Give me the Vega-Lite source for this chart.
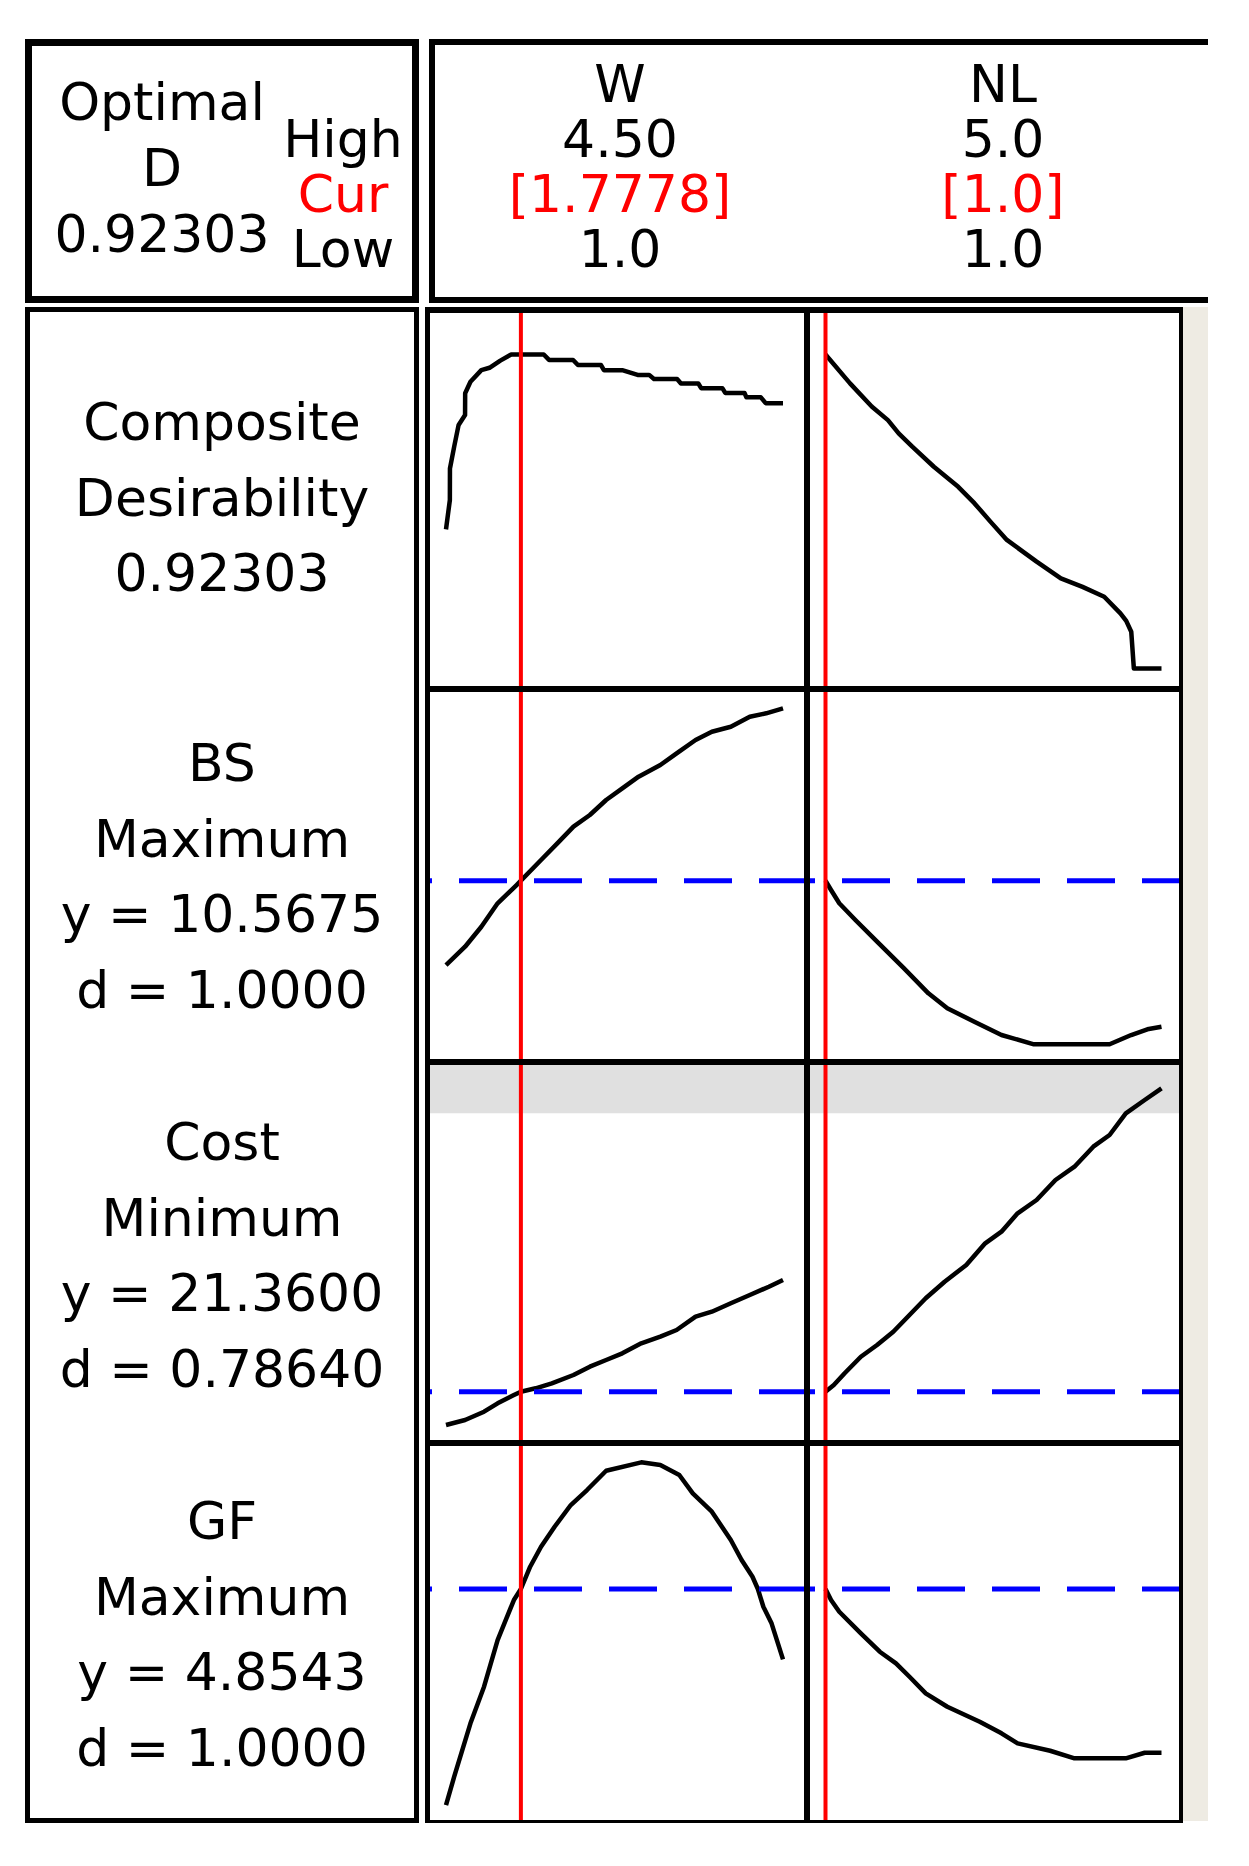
{
"$schema": "https://vega.github.io/schema/vega-lite/v6.json",
"background": "white",
"padding": {"left": 25, "top": 39, "right": 0, "bottom": 0},
"config": {"view": {"stroke": null}, "font": "DejaVu Sans", "text": {"font": "DejaVu Sans", "fontSize": 52, "baseline": "middle", "align": "center"}},
"datasets": {
"optimal": [
{"col": "opt", "line": "a", "t": "Optimal"},
{"col": "opt", "line": "b", "t": "D"},
{"col": "opt", "line": "c", "t": "0.92303"}
],
"hcl": [
{"col": "hcl", "line": "high", "t": "High", "role": "text"},
{"col": "hcl", "line": "cur", "t": "Cur", "role": "current"},
{"col": "hcl", "line": "low", "t": "Low", "role": "text"}
],
"factors": [
{"factor": "W", "line": "name", "t": "W", "role": "text"},
{"factor": "W", "line": "high", "t": "4.50", "role": "text"},
{"factor": "W", "line": "cur", "t": "[1.7778]", "role": "current"},
{"factor": "W", "line": "low", "t": "1.0", "role": "text"},
{"factor": "NL", "line": "name", "t": "NL", "role": "text"},
{"factor": "NL", "line": "high", "t": "5.0", "role": "text"},
{"factor": "NL", "line": "cur", "t": "[1.0]", "role": "current"},
{"factor": "NL", "line": "low", "t": "1.0", "role": "text"}
],
"labels": [
{"resp": "CD", "line": "c1", "t": "Composite", "role": "text"},
{"resp": "CD", "line": "c2", "t": "Desirability", "role": "text"},
{"resp": "CD", "line": "c3", "t": "0.92303", "role": "text"},
{"resp": "BS", "line": "l1", "t": "BS", "role": "text"},
{"resp": "BS", "line": "l2", "t": "Maximum", "role": "text"},
{"resp": "BS", "line": "l3", "t": "y = 10.5675", "role": "predicted"},
{"resp": "BS", "line": "l4", "t": "d = 1.0000", "role": "text"},
{"resp": "Cost", "line": "l1", "t": "Cost", "role": "text"},
{"resp": "Cost", "line": "l2", "t": "Minimum", "role": "text"},
{"resp": "Cost", "line": "l3", "t": "y = 21.3600", "role": "predicted"},
{"resp": "Cost", "line": "l4", "t": "d = 0.78640", "role": "text"},
{"resp": "GF", "line": "l1", "t": "GF", "role": "text"},
{"resp": "GF", "line": "l2", "t": "Maximum", "role": "text"},
{"resp": "GF", "line": "l3", "t": "y = 4.8543", "role": "predicted"},
{"resp": "GF", "line": "l4", "t": "d = 1.0000", "role": "text"}
],
"curves": [
{"r":"CD","f":"W","x":1.0,"y":0.409},{"r":"CD","f":"W","x":1.04,"y":0.495},{"r":"CD","f":"W","x":1.041,"y":0.588},{"r":"CD","f":"W","x":1.085,"y":0.652},{"r":"CD","f":"W","x":1.131,"y":0.716},{"r":"CD","f":"W","x":1.198,"y":0.745},{"r":"CD","f":"W","x":1.199,"y":0.809},{"r":"CD","f":"W","x":1.254,"y":0.843},{"r":"CD","f":"W","x":1.367,"y":0.877},{"r":"CD","f":"W","x":1.452,"y":0.884},{"r":"CD","f":"W","x":1.564,"y":0.905},{"r":"CD","f":"W","x":1.677,"y":0.923},{"r":"CD","f":"W","x":2.015,"y":0.923},{"r":"CD","f":"W","x":2.07,"y":0.907},{"r":"CD","f":"W","x":2.32,"y":0.907},{"r":"CD","f":"W","x":2.37,"y":0.892},{"r":"CD","f":"W","x":2.61,"y":0.892},{"r":"CD","f":"W","x":2.64,"y":0.877},{"r":"CD","f":"W","x":2.83,"y":0.877},{"r":"CD","f":"W","x":2.99,"y":0.863},{"r":"CD","f":"W","x":3.11,"y":0.863},{"r":"CD","f":"W","x":3.16,"y":0.851},{"r":"CD","f":"W","x":3.40,"y":0.851},{"r":"CD","f":"W","x":3.44,"y":0.838},{"r":"CD","f":"W","x":3.62,"y":0.838},{"r":"CD","f":"W","x":3.65,"y":0.824},{"r":"CD","f":"W","x":3.87,"y":0.824},{"r":"CD","f":"W","x":3.90,"y":0.81},{"r":"CD","f":"W","x":4.10,"y":0.81},{"r":"CD","f":"W","x":4.12,"y":0.797},{"r":"CD","f":"W","x":4.27,"y":0.797},{"r":"CD","f":"W","x":4.32,"y":0.78},{"r":"CD","f":"W","x":4.5,"y":0.78},
{"r":"CD","f":"NL","x":1.0,"y":0.923},{"r":"CD","f":"NL","x":1.292,"y":0.838},{"r":"CD","f":"NL","x":1.55,"y":0.770},{"r":"CD","f":"NL","x":1.743,"y":0.730},{"r":"CD","f":"NL","x":1.871,"y":0.691},{"r":"CD","f":"NL","x":2.033,"y":0.652},{"r":"CD","f":"NL","x":2.29,"y":0.593},{"r":"CD","f":"NL","x":2.58,"y":0.534},{"r":"CD","f":"NL","x":2.772,"y":0.486},{"r":"CD","f":"NL","x":2.966,"y":0.431},{"r":"CD","f":"NL","x":3.159,"y":0.378},{"r":"CD","f":"NL","x":3.513,"y":0.314},{"r":"CD","f":"NL","x":3.802,"y":0.265},{"r":"CD","f":"NL","x":4.06,"y":0.240},{"r":"CD","f":"NL","x":4.318,"y":0.211},{"r":"CD","f":"NL","x":4.511,"y":0.162},{"r":"CD","f":"NL","x":4.58,"y":0.14},{"r":"CD","f":"NL","x":4.64,"y":0.108},{"r":"CD","f":"NL","x":4.671,"y":0.0},{"r":"CD","f":"NL","x":5.0,"y":0.0},
{"r":"BS","f":"W","x":1.0,"y":7.757},{"r":"BS","f":"W","x":1.198,"y":8.367},{"r":"BS","f":"W","x":1.367,"y":9.034},{"r":"BS","f":"W","x":1.536,"y":9.814},{"r":"BS","f":"W","x":1.733,"y":10.424},{"r":"BS","f":"W","x":1.7778,"y":10.5675},{"r":"BS","f":"W","x":1.987,"y":11.257},{"r":"BS","f":"W","x":2.156,"y":11.81},{"r":"BS","f":"W","x":2.324,"y":12.37},{"r":"BS","f":"W","x":2.494,"y":12.757},{"r":"BS","f":"W","x":2.663,"y":13.257},{"r":"BS","f":"W","x":2.831,"y":13.647},{"r":"BS","f":"W","x":3.0,"y":14.034},{"r":"BS","f":"W","x":3.226,"y":14.424},{"r":"BS","f":"W","x":3.395,"y":14.814},{"r":"BS","f":"W","x":3.592,"y":15.257},{"r":"BS","f":"W","x":3.761,"y":15.534},{"r":"BS","f":"W","x":3.958,"y":15.70},{"r":"BS","f":"W","x":4.155,"y":16.034},{"r":"BS","f":"W","x":4.325,"y":16.147},{"r":"BS","f":"W","x":4.5,"y":16.314},
{"r":"BS","f":"NL","x":1.0,"y":10.5675},{"r":"BS","f":"NL","x":1.066,"y":10.257},{"r":"BS","f":"NL","x":1.164,"y":9.814},{"r":"BS","f":"NL","x":1.356,"y":9.257},{"r":"BS","f":"NL","x":1.614,"y":8.534},{"r":"BS","f":"NL","x":1.935,"y":7.647},{"r":"BS","f":"NL","x":2.225,"y":6.814},{"r":"BS","f":"NL","x":2.45,"y":6.314},{"r":"BS","f":"NL","x":2.772,"y":5.867},{"r":"BS","f":"NL","x":3.095,"y":5.424},{"r":"BS","f":"NL","x":3.481,"y":5.114},{"r":"BS","f":"NL","x":4.382,"y":5.114},{"r":"BS","f":"NL","x":4.639,"y":5.424},{"r":"BS","f":"NL","x":4.832,"y":5.614},{"r":"BS","f":"NL","x":5.0,"y":5.70},
{"r":"Cost","f":"W","x":1.0,"y":18.03},{"r":"Cost","f":"W","x":1.198,"y":18.53},{"r":"Cost","f":"W","x":1.395,"y":19.36},{"r":"Cost","f":"W","x":1.536,"y":20.20},{"r":"Cost","f":"W","x":1.70,"y":21.0},{"r":"Cost","f":"W","x":1.7778,"y":21.36},{"r":"Cost","f":"W","x":1.931,"y":21.70},{"r":"Cost","f":"W","x":2.099,"y":22.20},{"r":"Cost","f":"W","x":2.324,"y":23.03},{"r":"Cost","f":"W","x":2.494,"y":23.86},{"r":"Cost","f":"W","x":2.663,"y":24.53},{"r":"Cost","f":"W","x":2.831,"y":25.20},{"r":"Cost","f":"W","x":3.028,"y":26.20},{"r":"Cost","f":"W","x":3.226,"y":26.86},{"r":"Cost","f":"W","x":3.395,"y":27.53},{"r":"Cost","f":"W","x":3.592,"y":28.86},{"r":"Cost","f":"W","x":3.761,"y":29.36},{"r":"Cost","f":"W","x":3.958,"y":30.20},{"r":"Cost","f":"W","x":4.155,"y":31.03},{"r":"Cost","f":"W","x":4.353,"y":31.86},{"r":"Cost","f":"W","x":4.5,"y":32.53},
{"r":"Cost","f":"NL","x":1.0,"y":21.36},{"r":"Cost","f":"NL","x":1.099,"y":22.03},{"r":"Cost","f":"NL","x":1.228,"y":23.20},{"r":"Cost","f":"NL","x":1.421,"y":24.86},{"r":"Cost","f":"NL","x":1.614,"y":26.03},{"r":"Cost","f":"NL","x":1.807,"y":27.36},{"r":"Cost","f":"NL","x":2.0,"y":29.03},{"r":"Cost","f":"NL","x":2.193,"y":30.70},{"r":"Cost","f":"NL","x":2.418,"y":32.36},{"r":"Cost","f":"NL","x":2.676,"y":34.03},{"r":"Cost","f":"NL","x":2.901,"y":36.20},{"r":"Cost","f":"NL","x":3.095,"y":37.36},{"r":"Cost","f":"NL","x":3.287,"y":39.20},{"r":"Cost","f":"NL","x":3.513,"y":40.53},{"r":"Cost","f":"NL","x":3.738,"y":42.53},{"r":"Cost","f":"NL","x":3.964,"y":43.86},{"r":"Cost","f":"NL","x":4.188,"y":45.86},{"r":"Cost","f":"NL","x":4.382,"y":47.03},{"r":"Cost","f":"NL","x":4.575,"y":49.20},{"r":"Cost","f":"NL","x":4.8,"y":50.53},{"r":"Cost","f":"NL","x":5.0,"y":51.70},
{"r":"GF","f":"W","x":1.0,"y":2.694},{"r":"GF","f":"W","x":1.085,"y":2.977},{"r":"GF","f":"W","x":1.254,"y":3.511},{"r":"GF","f":"W","x":1.395,"y":3.877},{"r":"GF","f":"W","x":1.536,"y":4.344},{"r":"GF","f":"W","x":1.705,"y":4.744},{"r":"GF","f":"W","x":1.7778,"y":4.8543},{"r":"GF","f":"W","x":1.874,"y":5.077},{"r":"GF","f":"W","x":1.987,"y":5.277},{"r":"GF","f":"W","x":2.128,"y":5.477},{"r":"GF","f":"W","x":2.296,"y":5.694},{"r":"GF","f":"W","x":2.465,"y":5.844},{"r":"GF","f":"W","x":2.663,"y":6.037},{"r":"GF","f":"W","x":3.028,"y":6.121},{"r":"GF","f":"W","x":3.226,"y":6.094},{"r":"GF","f":"W","x":3.423,"y":5.994},{"r":"GF","f":"W","x":3.563,"y":5.811},{"r":"GF","f":"W","x":3.761,"y":5.627},{"r":"GF","f":"W","x":3.958,"y":5.344},{"r":"GF","f":"W","x":4.07,"y":5.144},{"r":"GF","f":"W","x":4.183,"y":4.977},{"r":"GF","f":"W","x":4.239,"y":4.8543},{"r":"GF","f":"W","x":4.296,"y":4.677},{"r":"GF","f":"W","x":4.381,"y":4.511},{"r":"GF","f":"W","x":4.5,"y":4.151},
{"r":"GF","f":"NL","x":1.0,"y":4.8543},{"r":"GF","f":"NL","x":1.066,"y":4.744},{"r":"GF","f":"NL","x":1.164,"y":4.627},{"r":"GF","f":"NL","x":1.421,"y":4.411},{"r":"GF","f":"NL","x":1.646,"y":4.227},{"r":"GF","f":"NL","x":1.839,"y":4.111},{"r":"GF","f":"NL","x":2.0,"y":3.977},{"r":"GF","f":"NL","x":2.193,"y":3.811},{"r":"GF","f":"NL","x":2.45,"y":3.677},{"r":"GF","f":"NL","x":2.836,"y":3.527},{"r":"GF","f":"NL","x":3.095,"y":3.411},{"r":"GF","f":"NL","x":3.287,"y":3.311},{"r":"GF","f":"NL","x":3.674,"y":3.237},{"r":"GF","f":"NL","x":3.964,"y":3.161},{"r":"GF","f":"NL","x":4.575,"y":3.161},{"r":"GF","f":"NL","x":4.8,"y":3.217},{"r":"GF","f":"NL","x":5.0,"y":3.217}
]
},
"spacing": 4,
"vconcat": [
{"spacing": 10, "hconcat": [
 {"width": 394, "height": 264,
  "resolve": {"scale": {"y": "independent"}},
  "layer": [
   {"data": {"name": "optimal"}, "mark": {"type": "text"},
    "encoding": {
     "x": {"field": "col", "type": "nominal", "scale": {"type": "point", "domain": ["opt", "hcl"], "padding": 0.5884, "align": 0.6432}, "axis": null},
     "y": {"field": "line", "type": "nominal", "scale": {"type": "point", "domain": ["a", "b", "c"], "padding": 1.0952, "align": 0.4928}, "axis": null},
     "text": {"field": "t"}, "color": {"value": "black"}}},
   {"data": {"name": "hcl"}, "mark": {"type": "text"},
    "encoding": {
     "x": {"field": "col", "type": "nominal", "scale": {"type": "point", "domain": ["opt", "hcl"], "padding": 0.5884, "align": 0.6432}, "axis": null},
     "y": {"field": "line", "type": "nominal", "scale": {"type": "point", "domain": ["name", "high", "cur", "low"], "padding": 0.9, "align": 0.4747}, "axis": null},
     "text": {"field": "t"},
     "color": {"field": "role", "type": "nominal", "scale": {"domain": ["text", "current"], "range": ["black", "#ff0000"]}, "legend": null}}},
   {"data": {"values": [{}]}, "mark": {"type": "rect", "filled": false, "color": "black", "strokeWidth": 14, "clip": true}, "encoding": {}}
  ]},
 {"width": 779, "height": 264,
  "layer": [
   {"data": {"name": "factors"}, "mark": {"type": "text"},
    "encoding": {
     "x": {"field": "factor", "type": "nominal", "scale": {"type": "point", "domain": ["W", "NL"], "padding": 0.517, "align": 0.4823}, "axis": null},
     "y": {"field": "line", "type": "nominal", "scale": {"type": "point", "domain": ["name", "high", "cur", "low"], "padding": 0.9, "align": 0.4747}, "axis": null},
     "text": {"field": "t"},
     "color": {"field": "role", "type": "nominal", "scale": {"domain": ["text", "current"], "range": ["black", "#ff0000"]}, "legend": null}}},
   {"data": {"values": [{}]}, "mark": {"type": "rect", "filled": false, "color": "black", "strokeWidth": 12, "strokeDash": [779, 264, 1043, 0], "clip": true}, "encoding": {}}
  ]}
]},
{"spacing": 6, "hconcat": [
 {"width": 394, "height": 1516,
  "layer": [
   {"data": {"name": "labels"}, "mark": {"type": "text", "dy": 3},
    "encoding": {
     "y": {"field": "resp", "type": "nominal", "scale": {"type": "band", "domain": ["CD", "BS", "Cost", "GF"], "paddingInner": 0, "paddingOuter": 0}, "axis": null},
     "yOffset": {"field": "line", "type": "nominal", "scale": {"type": "point", "domain": ["x0", "l1", "c1", "l2", "c2", "l3", "c3", "l4", "x8"], "paddingOuter": 1}},
     "text": {"field": "t"},
     "color": {"field": "role", "type": "nominal", "scale": {"domain": ["text", "predicted"], "range": ["black", "#0000ff"]}, "legend": null}}},
   {"data": {"values": [{}]}, "mark": {"type": "rect", "filled": false, "color": "black", "strokeWidth": 10, "clip": true}, "encoding": {}}
  ]},
 {"spacing": 0, "hconcat": [
  {"spacing": 0, "vconcat": [
   {"spacing": 0, "hconcat": [
    {"width": 382, "height": 382,
     "layer": [
      {"data": {"name": "curves"}, "transform": [{"filter": "datum.r == 'CD' && datum.f == 'W'"}],
       "mark": {"type": "line", "color": "black", "strokeWidth": 4.5, "strokeJoin": "round", "clip": true},
       "encoding": {"x": {"field": "x", "type": "quantitative", "scale": {"domain": [0.7819, 4.7492], "nice": false, "zero": false}, "axis": null},
                    "y": {"field": "y", "type": "quantitative", "scale": {"domain": [-0.0603, 1.0626], "nice": false, "zero": false}, "axis": null}}},
      {"data": {"values": [{"setting": 1.7778}]}, "mark": {"type": "rule", "color": "#ff0000", "strokeWidth": 4, "clip": true},
       "encoding": {"x": {"field": "setting", "type": "quantitative", "scale": {"domain": [0.7819, 4.7492], "nice": false, "zero": false}, "axis": null}}},
      {"data": {"values": [{}]}, "mark": {"type": "rect", "filled": false, "color": "black", "strokeWidth": 6, "clip": true},
       "encoding": {"x": {"datum": 0.7819}, "x2": {"datum": 4.7492}, "y": {"datum": -0.0603}, "y2": {"datum": 1.0626}}},
      {"data": {"values": [{}]}, "mark": {"type": "rule", "color": "black", "strokeWidth": 10, "clip": true}, "encoding": {"x": {"datum": 0.7819}}},
      {"data": {"values": [{}]}, "mark": {"type": "rule", "color": "black", "strokeWidth": 12, "clip": true}, "encoding": {"y": {"datum": 1.0626}}}
     ]},
    {"width": 376, "height": 382,
     "layer": [
      {"data": {"name": "curves"}, "transform": [{"filter": "datum.r == 'CD' && datum.f == 'NL'"}],
       "mark": {"type": "line", "color": "black", "strokeWidth": 4.5, "strokeJoin": "round", "clip": true},
       "encoding": {"x": {"field": "x", "type": "quantitative", "scale": {"domain": [0.7798, 5.256], "nice": false, "zero": false}, "axis": null},
                    "y": {"field": "y", "type": "quantitative", "scale": {"domain": [-0.0603, 1.0626], "nice": false, "zero": false}, "axis": null}}},
      {"data": {"values": [{"setting": 1.0}]}, "mark": {"type": "rule", "color": "#ff0000", "strokeWidth": 4, "clip": true},
       "encoding": {"x": {"field": "setting", "type": "quantitative", "scale": {"domain": [0.7798, 5.256], "nice": false, "zero": false}, "axis": null}}},
      {"data": {"values": [{}]}, "mark": {"type": "rect", "filled": false, "color": "black", "strokeWidth": 6, "clip": true},
       "encoding": {"x": {"datum": 0.7798}, "x2": {"datum": 5.256}, "y": {"datum": -0.0603}, "y2": {"datum": 1.0626}}},
      {"data": {"values": [{}]}, "mark": {"type": "rule", "color": "black", "strokeWidth": 8, "clip": true}, "encoding": {"x": {"datum": 5.256}}},
      {"data": {"values": [{}]}, "mark": {"type": "rule", "color": "black", "strokeWidth": 12, "clip": true}, "encoding": {"y": {"datum": 1.0626}}}
     ]}
   ]},
   {"spacing": 0, "hconcat": [
    {"width": 382, "height": 373,
     "layer": [
      {"data": {"name": "curves"}, "transform": [{"filter": "datum.r == 'BS' && datum.f == 'W'"}],
       "mark": {"type": "line", "color": "black", "strokeWidth": 4.5, "strokeJoin": "round", "clip": true},
       "encoding": {"x": {"field": "x", "type": "quantitative", "scale": {"domain": [0.7819, 4.7492], "nice": false, "zero": false}, "axis": null},
                    "y": {"field": "y", "type": "quantitative", "scale": {"domain": [4.5242, 16.9575], "nice": false, "zero": false}, "axis": null}}},
      {"data": {"values": [{"fit": 10.5675}]}, "mark": {"type": "rule", "color": "#0000ff", "strokeWidth": 5, "strokeDash": [48, 27], "clip": true},
       "encoding": {"y": {"field": "fit", "type": "quantitative", "scale": {"domain": [4.5242, 16.9575], "nice": false, "zero": false}, "axis": null}}},
      {"data": {"values": [{"setting": 1.7778}]}, "mark": {"type": "rule", "color": "#ff0000", "strokeWidth": 4, "clip": true},
       "encoding": {"x": {"field": "setting", "type": "quantitative", "scale": {"domain": [0.7819, 4.7492], "nice": false, "zero": false}, "axis": null}}},
      {"data": {"values": [{}]}, "mark": {"type": "rect", "filled": false, "color": "black", "strokeWidth": 6, "clip": true},
       "encoding": {"x": {"datum": 0.7819}, "x2": {"datum": 4.7492}, "y": {"datum": 4.5242}, "y2": {"datum": 16.9575}}},
      {"data": {"values": [{}]}, "mark": {"type": "rule", "color": "black", "strokeWidth": 10, "clip": true}, "encoding": {"x": {"datum": 0.7819}}}
     ]},
    {"width": 376, "height": 373,
     "layer": [
      {"data": {"name": "curves"}, "transform": [{"filter": "datum.r == 'BS' && datum.f == 'NL'"}],
       "mark": {"type": "line", "color": "black", "strokeWidth": 4.5, "strokeJoin": "round", "clip": true},
       "encoding": {"x": {"field": "x", "type": "quantitative", "scale": {"domain": [0.7798, 5.256], "nice": false, "zero": false}, "axis": null},
                    "y": {"field": "y", "type": "quantitative", "scale": {"domain": [4.5242, 16.9575], "nice": false, "zero": false}, "axis": null}}},
      {"data": {"values": [{"fit": 10.5675}]}, "mark": {"type": "rule", "color": "#0000ff", "strokeWidth": 5, "strokeDash": [48, 27], "strokeDashOffset": 7, "clip": true},
       "encoding": {"y": {"field": "fit", "type": "quantitative", "scale": {"domain": [4.5242, 16.9575], "nice": false, "zero": false}, "axis": null}}},
      {"data": {"values": [{"setting": 1.0}]}, "mark": {"type": "rule", "color": "#ff0000", "strokeWidth": 4, "clip": true},
       "encoding": {"x": {"field": "setting", "type": "quantitative", "scale": {"domain": [0.7798, 5.256], "nice": false, "zero": false}, "axis": null}}},
      {"data": {"values": [{}]}, "mark": {"type": "rect", "filled": false, "color": "black", "strokeWidth": 6, "clip": true},
       "encoding": {"x": {"datum": 0.7798}, "x2": {"datum": 5.256}, "y": {"datum": 4.5242}, "y2": {"datum": 16.9575}}},
      {"data": {"values": [{}]}, "mark": {"type": "rule", "color": "black", "strokeWidth": 8, "clip": true}, "encoding": {"x": {"datum": 5.256}}}
     ]}
   ]},
   {"spacing": 0, "hconcat": [
    {"width": 382, "height": 381,
     "layer": [
      {"data": {"values": [{"upper": 49.2}]}, "mark": {"type": "rect", "color": "#e0e0e0", "clip": true},
       "encoding": {"y": {"field": "upper", "type": "quantitative", "scale": {"domain": [16.23, 54.33], "nice": false, "zero": false}, "axis": null},
                    "y2": {"datum": 54.33},
                    "x": {"datum": 0.7819, "type": "quantitative", "scale": {"domain": [0.7819, 4.7492], "nice": false, "zero": false}, "axis": null},
                    "x2": {"datum": 4.7492}}},
      {"data": {"name": "curves"}, "transform": [{"filter": "datum.r == 'Cost' && datum.f == 'W'"}],
       "mark": {"type": "line", "color": "black", "strokeWidth": 4.5, "strokeJoin": "round", "clip": true},
       "encoding": {"x": {"field": "x", "type": "quantitative", "scale": {"domain": [0.7819, 4.7492], "nice": false, "zero": false}, "axis": null},
                    "y": {"field": "y", "type": "quantitative", "scale": {"domain": [16.23, 54.33], "nice": false, "zero": false}, "axis": null}}},
      {"data": {"values": [{"fit": 21.36}]}, "mark": {"type": "rule", "color": "#0000ff", "strokeWidth": 5, "strokeDash": [48, 27], "clip": true},
       "encoding": {"y": {"field": "fit", "type": "quantitative", "scale": {"domain": [16.23, 54.33], "nice": false, "zero": false}, "axis": null}}},
      {"data": {"values": [{"setting": 1.7778}]}, "mark": {"type": "rule", "color": "#ff0000", "strokeWidth": 4, "clip": true},
       "encoding": {"x": {"field": "setting", "type": "quantitative", "scale": {"domain": [0.7819, 4.7492], "nice": false, "zero": false}, "axis": null}}},
      {"data": {"values": [{}]}, "mark": {"type": "rect", "filled": false, "color": "black", "strokeWidth": 6, "clip": true},
       "encoding": {"x": {"datum": 0.7819}, "x2": {"datum": 4.7492}, "y": {"datum": 16.23}, "y2": {"datum": 54.33}}},
      {"data": {"values": [{}]}, "mark": {"type": "rule", "color": "black", "strokeWidth": 10, "clip": true}, "encoding": {"x": {"datum": 0.7819}}}
     ]},
    {"width": 376, "height": 381,
     "layer": [
      {"data": {"values": [{"upper": 49.2}]}, "mark": {"type": "rect", "color": "#e0e0e0", "clip": true},
       "encoding": {"y": {"field": "upper", "type": "quantitative", "scale": {"domain": [16.23, 54.33], "nice": false, "zero": false}, "axis": null},
                    "y2": {"datum": 54.33},
                    "x": {"datum": 0.7798, "type": "quantitative", "scale": {"domain": [0.7798, 5.256], "nice": false, "zero": false}, "axis": null},
                    "x2": {"datum": 5.256}}},
      {"data": {"name": "curves"}, "transform": [{"filter": "datum.r == 'Cost' && datum.f == 'NL'"}],
       "mark": {"type": "line", "color": "black", "strokeWidth": 4.5, "strokeJoin": "round", "clip": true},
       "encoding": {"x": {"field": "x", "type": "quantitative", "scale": {"domain": [0.7798, 5.256], "nice": false, "zero": false}, "axis": null},
                    "y": {"field": "y", "type": "quantitative", "scale": {"domain": [16.23, 54.33], "nice": false, "zero": false}, "axis": null}}},
      {"data": {"values": [{"fit": 21.36}]}, "mark": {"type": "rule", "color": "#0000ff", "strokeWidth": 5, "strokeDash": [48, 27], "strokeDashOffset": 7, "clip": true},
       "encoding": {"y": {"field": "fit", "type": "quantitative", "scale": {"domain": [16.23, 54.33], "nice": false, "zero": false}, "axis": null}}},
      {"data": {"values": [{"setting": 1.0}]}, "mark": {"type": "rule", "color": "#ff0000", "strokeWidth": 4, "clip": true},
       "encoding": {"x": {"field": "setting", "type": "quantitative", "scale": {"domain": [0.7798, 5.256], "nice": false, "zero": false}, "axis": null}}},
      {"data": {"values": [{}]}, "mark": {"type": "rect", "filled": false, "color": "black", "strokeWidth": 6, "clip": true},
       "encoding": {"x": {"datum": 0.7798}, "x2": {"datum": 5.256}, "y": {"datum": 16.23}, "y2": {"datum": 54.33}}},
      {"data": {"values": [{}]}, "mark": {"type": "rule", "color": "black", "strokeWidth": 8, "clip": true}, "encoding": {"x": {"datum": 5.256}}}
     ]}
   ]},
   {"spacing": 0, "hconcat": [
    {"width": 382, "height": 380,
     "layer": [
      {"data": {"name": "curves"}, "transform": [{"filter": "datum.r == 'GF' && datum.f == 'W'"}],
       "mark": {"type": "line", "color": "black", "strokeWidth": 4.5, "strokeJoin": "round", "clip": true},
       "encoding": {"x": {"field": "x", "type": "quantitative", "scale": {"domain": [0.7819, 4.7492], "nice": false, "zero": false}, "axis": null},
                    "y": {"field": "y", "type": "quantitative", "scale": {"domain": [2.5143, 6.3143], "nice": false, "zero": false}, "axis": null}}},
      {"data": {"values": [{"fit": 4.8543}]}, "mark": {"type": "rule", "color": "#0000ff", "strokeWidth": 5, "strokeDash": [48, 27], "clip": true},
       "encoding": {"y": {"field": "fit", "type": "quantitative", "scale": {"domain": [2.5143, 6.3143], "nice": false, "zero": false}, "axis": null}}},
      {"data": {"values": [{"setting": 1.7778}]}, "mark": {"type": "rule", "color": "#ff0000", "strokeWidth": 4, "clip": true},
       "encoding": {"x": {"field": "setting", "type": "quantitative", "scale": {"domain": [0.7819, 4.7492], "nice": false, "zero": false}, "axis": null}}},
      {"data": {"values": [{}]}, "mark": {"type": "rect", "filled": false, "color": "black", "strokeWidth": 6, "clip": true},
       "encoding": {"x": {"datum": 0.7819}, "x2": {"datum": 4.7492}, "y": {"datum": 2.5143}, "y2": {"datum": 6.3143}}},
      {"data": {"values": [{}]}, "mark": {"type": "rule", "color": "black", "strokeWidth": 10, "clip": true}, "encoding": {"x": {"datum": 0.7819}}}
     ]},
    {"width": 376, "height": 380,
     "layer": [
      {"data": {"name": "curves"}, "transform": [{"filter": "datum.r == 'GF' && datum.f == 'NL'"}],
       "mark": {"type": "line", "color": "black", "strokeWidth": 4.5, "strokeJoin": "round", "clip": true},
       "encoding": {"x": {"field": "x", "type": "quantitative", "scale": {"domain": [0.7798, 5.256], "nice": false, "zero": false}, "axis": null},
                    "y": {"field": "y", "type": "quantitative", "scale": {"domain": [2.5143, 6.3143], "nice": false, "zero": false}, "axis": null}}},
      {"data": {"values": [{"fit": 4.8543}]}, "mark": {"type": "rule", "color": "#0000ff", "strokeWidth": 5, "strokeDash": [48, 27], "strokeDashOffset": 7, "clip": true},
       "encoding": {"y": {"field": "fit", "type": "quantitative", "scale": {"domain": [2.5143, 6.3143], "nice": false, "zero": false}, "axis": null}}},
      {"data": {"values": [{"setting": 1.0}]}, "mark": {"type": "rule", "color": "#ff0000", "strokeWidth": 4, "clip": true},
       "encoding": {"x": {"field": "setting", "type": "quantitative", "scale": {"domain": [0.7798, 5.256], "nice": false, "zero": false}, "axis": null}}},
      {"data": {"values": [{}]}, "mark": {"type": "rect", "filled": false, "color": "black", "strokeWidth": 6, "clip": true},
       "encoding": {"x": {"datum": 0.7798}, "x2": {"datum": 5.256}, "y": {"datum": 2.5143}, "y2": {"datum": 6.3143}}},
      {"data": {"values": [{}]}, "mark": {"type": "rule", "color": "black", "strokeWidth": 8, "clip": true}, "encoding": {"x": {"datum": 5.256}}}
     ]}
   ]}
  ]},
  {"width": 25, "height": 1514, "view": {"fill": "#eeebe3", "stroke": null}, "data": {"values": []}, "mark": "point"}
 ]}
]}
]
}
